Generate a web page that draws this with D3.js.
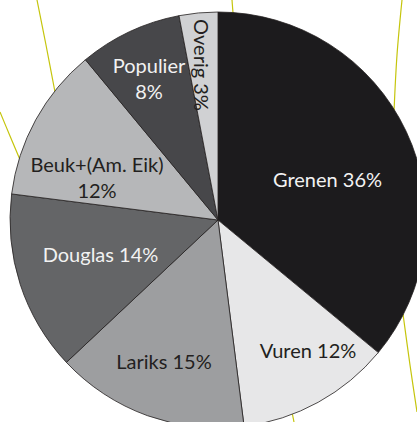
<!DOCTYPE html>
<html><head><meta charset="utf-8">
<script src="https://cdn.jsdelivr.net/npm/d3@7"></script>
<style>html,body{margin:0;padding:0;background:#fff;}svg{display:block;}</style>
</head><body>
<svg id="c" width="417" height="422"></svg>
<script>
const categories = ["Grenen", "Vuren", "Lariks", "Douglas", "Beuk+(Am. Eik)", "Populier", "Overig"];
const values = [36, 12, 15, 14, 12, 8, 3];
const colors = ["#1c1b1d", "#e7e7e8", "#9d9ea0", "#646567", "#b6b7b9", "#47474a", "#d0d1d3"];
const textColors = ["#f2f2f2", "#231f20", "#231f20", "#f2f2f2", "#231f20", "#f2f2f2", "#231f20"];
// label lines per slice
const labelLines = [["Grenen 36%"], ["Vuren 12%"], ["Lariks 15%"], ["Douglas 14%"], ["Beuk+(Am. Eik)", "12%"], ["Populier", "8%"], ["Overig 3%"]];
// background map lines (decoration)
const bgLines = [
  [[37,0],[46,45],[55,92]],
  [[0,112],[10,136],[21,162]],
  [[232,0],[233,13]],
  [[402,0],[397,55],[394,112]],
  [[403,314],[410,365],[417,412]],
  [[292,412],[294,422]]
];

const svg = d3.select("#c");
const cx = 218, cy = 220, R = 208;

svg.append("g").selectAll("path").data(bgLines).join("path")
  .attr("d", d3.line().curve(d3.curveCatmullRom))
  .attr("fill", "none").attr("stroke", "#c5c50c").attr("stroke-width", 1.2);

const pie = d3.pie().sort(null).value(d => d)(values);
const arc = d3.arc().innerRadius(0).outerRadius(R);
const g = svg.append("g").attr("transform", `translate(${cx},${cy})`);
g.selectAll("path").data(pie).join("path")
  .attr("d", arc)
  .attr("fill", (d, i) => colors[i])
  .attr("stroke", "#231f20").attr("stroke-width", 0.8);

const labelPos = [
  {x: 327.5, y: 187}, {x: 308, y: 358}, {x: 164, y: 369}, {x: 100.5, y: 262},
  {x: 97, y: 172}, {x: 149, y: 73}, {x: 194, y: 65}
];
const font = "Lato, 'Open Sans', sans-serif";
labelLines.forEach((lines, i) => {
  const p = labelPos[i];
  const t = svg.append("text")
    .attr("font-family", font).attr("font-size", 20)
    .attr("fill", textColors[i]).attr("text-anchor", "middle");
  if (i === 6) {
    t.attr("transform", `translate(${p.x},${p.y}) rotate(90)`).text(lines[0]);
  } else {
    lines.forEach((s, k) => {
      t.append("tspan").attr("x", p.x).attr("y", p.y + k * 26).text(s);
    });
  }
});
</script>
</body></html>
